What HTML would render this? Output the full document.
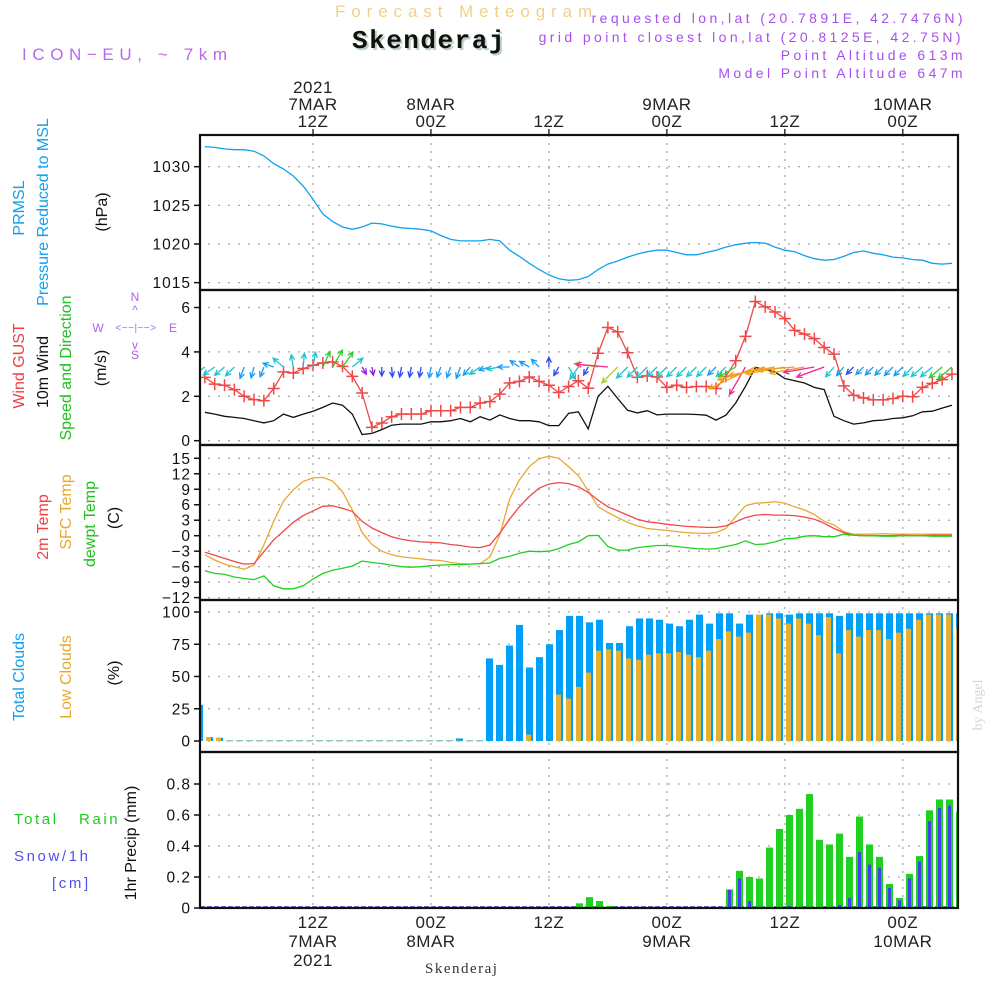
<!DOCTYPE html>
<html><head><meta charset="utf-8">
<style>
html,body{margin:0;padding:0;background:#fff;}
svg{display:block;font-family:"Liberation Sans",sans-serif;}
</style></head>
<body>
<svg id="chart" width="1000" height="1000" viewBox="0 0 1000 1000" xmlns="http://www.w3.org/2000/svg">
<text x="335" y="17" font-size="17" letter-spacing="5.9" fill="#f2cf8c">Forecast Meteogram</text>
<text x="354" y="50" font-family="Liberation Mono,monospace" font-weight="bold" font-size="26" letter-spacing="1.5" fill="#b9d2bc">Skenderaj</text>
<text x="352" y="48" font-family="Liberation Mono,monospace" font-weight="bold" font-size="26" letter-spacing="1.5" fill="#111">Skenderaj</text>
<text x="22" y="60" font-size="17" letter-spacing="5.6" fill="#b868f0">ICON−EU, ~ 7km</text>
<g font-size="14" letter-spacing="3.4" fill="#a850ee" text-anchor="end">
<text x="966" y="23">requested lon,lat (20.7891E, 42.7476N)</text>
<text x="964" y="42">grid point closest lon,lat (20.8125E, 42.75N)</text>
<text x="966" y="60">Point Altitude 613m</text>
<text x="966" y="78">Model Point Altitude 647m</text>
</g>
<g id="g"></g>
<g fill="#b060f0" font-size="12" text-anchor="middle">
<text x="135" y="301">N</text>
<text x="136" y="331" font-size="10" letter-spacing="0.5">&lt;−−|−−&gt;</text>
<text x="98" y="332">W</text>
<text x="173" y="332">E</text>
<text x="135" y="359">S</text>
<text x="135" y="314">^</text>
<text x="135" y="349">v</text>
</g>
<g font-size="16" text-anchor="middle">
<text transform="translate(24,208) rotate(-90)" fill="#10a0f0">PRMSL</text>
<text transform="translate(48,212) rotate(-90)" fill="#10a0f0">Pressure Reduced to MSL</text>
<text transform="translate(107,212) rotate(-90)" fill="#111">(hPa)</text>
<text transform="translate(24,366) rotate(-90)" fill="#f04040">Wind GUST</text>
<text transform="translate(48,372) rotate(-90)" fill="#111">10m Wind</text>
<text transform="translate(71,368) rotate(-90)" fill="#20c020">Speed and Direction</text>
<text transform="translate(106,368) rotate(-90)" fill="#111">(m/s)</text>
<text transform="translate(48,527) rotate(-90)" fill="#f04040">2m Temp</text>
<text transform="translate(71,512) rotate(-90)" fill="#e8a830">SFC Temp</text>
<text transform="translate(95,524) rotate(-90)" fill="#20c020">dewpt Temp</text>
<text transform="translate(119,518) rotate(-90)" fill="#111">(C)</text>
<text transform="translate(24,677) rotate(-90)" fill="#10a0f0">Total Clouds</text>
<text transform="translate(71,677) rotate(-90)" fill="#e8a830">Low Clouds</text>
<text transform="translate(119,673) rotate(-90)" fill="#111">(%)</text>
<text transform="translate(136,843) rotate(-90)" fill="#111">1hr Precip (mm)</text>
</g>
<g font-size="15" letter-spacing="2.6">
<text x="14" y="824" fill="#20c820">Total</text>
<text x="79" y="824" fill="#20c820">Rain</text>
<text x="14" y="861" fill="#5050f0">Snow/1h</text>
<text x="52" y="888" fill="#5050f0">[cm]</text>
</g>
<text transform="translate(982,705) rotate(-90)" text-anchor="middle" font-family="Liberation Serif,serif" font-size="14" fill="#d4d4d4">by Angel</text>
<text x="425" y="973" font-family="Liberation Serif,serif" font-size="15" letter-spacing="1.5" fill="#333">Skenderaj</text>
</svg>
<script>
const hours=[];for(let i=1;i<=77;i++)hours.push(i);
const pressure=[1032.6,1032.5,1032.3,1032.2,1032.2,1032.0,1031.4,1030.4,1029.7,1028.8,
1027.5,1025.8,1023.9,1022.9,1022.2,1021.9,1022.2,1022.7,1022.6,1022.3,
1022.1,1022.0,1021.9,1021.7,1021.1,1020.6,1020.4,1020.4,1020.4,1020.6,
1020.4,1019.2,1018.4,1017.5,1016.7,1016.0,1015.5,1015.3,1015.4,1015.8,
1016.7,1017.4,1017.8,1018.3,1018.7,1019.0,1019.2,1019.2,1018.9,1018.6,
1018.6,1018.9,1019.2,1019.6,1019.9,1020.1,1020.2,1020.1,1019.6,1019.2,
1019.0,1018.5,1018.1,1017.9,1018.0,1018.4,1018.9,1019.1,1018.8,1018.6,
1018.3,1018.2,1018.0,1017.9,1017.5,1017.4,1017.5];
const gust=[2.85,2.55,2.5,2.3,2.0,1.85,1.8,2.35,3.1,3.05,
3.25,3.4,3.5,3.55,3.35,2.9,2.15,0.6,0.8,1.08,
1.2,1.2,1.2,1.35,1.35,1.35,1.5,1.5,1.7,1.76,
2.1,2.6,2.67,2.87,2.67,2.5,2.17,2.44,2.7,2.36,
3.94,5.1,4.9,3.96,2.86,2.92,2.87,2.4,2.5,2.4,
2.44,2.44,2.35,2.9,3.6,4.7,6.27,6.03,5.8,5.5,
4.97,4.8,4.6,4.2,3.9,2.47,2.05,1.93,1.84,1.84,
1.9,2.0,1.98,2.4,2.58,2.75,3.0];
const windSpeed=[1.28,1.2,1.1,1.05,1.0,0.9,0.8,0.9,1.2,1.05,
1.2,1.33,1.5,1.7,1.6,1.2,0.28,0.33,0.5,0.7,
0.75,0.75,0.75,0.85,0.85,0.9,1.0,0.85,1.08,0.93,
1.16,1.0,0.9,0.9,0.85,0.68,0.68,1.23,1.3,0.53,
2.0,2.45,1.9,1.37,1.25,1.35,1.16,1.2,1.2,1.2,
1.18,1.15,0.93,1.15,1.7,2.45,3.3,3.2,3.1,2.8,
2.7,2.6,2.4,2.3,1.1,0.9,0.75,0.8,0.9,0.93,
1.0,1.03,1.12,1.3,1.33,1.47,1.6];
const windDir=[215,215,220,225,250,255,250,160,140,100,
85,80,65,60,55,40,300,280,270,275,
260,260,260,260,250,250,250,230,215,195,
190,180,145,150,135,90,240,300,235,240,
172,175,225,225,225,225,225,225,225,225,
225,225,225,225,210,240,205,195,190,190,
185,190,190,200,230,230,225,225,225,225,
225,225,225,220,220,220,220];
const temp2m=[-3.2,-3.8,-4.4,-5.0,-5.5,-5.4,-3.1,-0.8,0.9,2.6,
3.9,4.8,5.7,5.8,5.3,4.7,2.8,1.5,0.6,-0.2,
-0.7,-1.0,-1.2,-1.3,-1.4,-1.7,-1.9,-2.2,-2.3,-1.8,
0.5,3.2,5.6,7.6,9.2,10.0,10.3,10.1,9.5,8.4,
6.9,5.6,4.8,4.0,3.2,2.7,2.5,2.2,2.0,1.8,
1.7,1.6,1.6,1.9,2.7,3.5,4.0,4.1,4.0,4.0,
3.9,3.6,3.2,2.4,1.4,0.6,0.1,0.0,0.0,0.0,
0.0,0.1,0.0,0.0,0.1,0.1,0.1];
const tempSfc=[-3.7,-4.7,-5.5,-6.0,-6.5,-5.7,-1.8,2.8,6.7,8.9,
10.5,11.2,11.3,10.6,8.5,5.0,0.6,-1.7,-3.0,-3.7,
-4.1,-4.3,-4.5,-4.7,-4.8,-5.2,-5.4,-5.5,-5.4,-4.1,
0.1,7.1,10.8,13.4,14.9,15.4,15.0,13.4,11.6,8.7,
5.6,4.5,3.5,2.6,1.9,1.4,1.2,1.0,0.8,0.6,
0.5,0.45,0.6,1.4,3.7,5.8,6.3,6.4,6.6,6.3,
5.6,5.0,4.1,2.8,2.1,0.8,0.3,0.3,0.3,0.4,
0.3,0.3,0.3,0.3,0.3,0.3,0.3];
const dewpt=[-6.8,-7.3,-7.5,-8.0,-8.3,-8.5,-7.8,-9.7,-10.3,-10.3,
-9.7,-8.4,-7.3,-6.7,-6.3,-5.9,-4.9,-5.2,-5.4,-5.7,
-6.0,-6.1,-6.0,-5.8,-5.7,-5.6,-5.6,-5.5,-5.4,-5.3,
-4.4,-4.0,-3.4,-3.0,-3.1,-3.0,-2.5,-1.7,-1.2,0.0,
0.05,-2.1,-2.8,-2.8,-2.3,-2.1,-1.9,-1.9,-2.1,-2.3,
-2.5,-2.6,-2.5,-2.1,-1.7,-1.0,-1.7,-1.6,-1.2,-0.6,
-0.5,-0.1,0.0,-0.2,-0.2,0.3,0.1,0.0,0.0,-0.1,
-0.1,0,0,0,-0.1,-0.1,-0.1];
const totalClouds=[28,3,2.5,0.5,0.5,0.5,0.5,0.5,0.5,0.5,
0.5,0.5,0.5,0.5,0.5,0.5,0.5,0.5,0.5,0.5,
0.5,0.5,0.5,0.5,0.5,0.5,2,0.5,0.5,64,
59,74,90,57,65,75,86,97,97,92,
94,76,76,89,95,95,94,91,89,94,
98,91,99,99,91,98,98,99,99,98,
99,99,99,99,97,99,99,99,99,99,
99,99,99,99,99,99,99];
const lowClouds=[28,3,2.5,0.3,0.3,0.3,0.3,0.3,0.3,0.3,
0.3,0.3,0.3,0.3,0.3,0.3,0.3,0.3,0.3,0.3,
0.3,0.3,0.3,0.3,0.3,0.3,0.3,0.3,0.3,0,
0,0,0,5,0,0,36,33,42,53,
70,71,70,64,63,67,68,68,69,67,
65,70,79,85,81,84,98,98,95,91,
95,91,82,96,68,86,81,86,86,79,
84,87,94,98,98,98,88];
const rain=[0,0,0,0,0,0,0,0,0,0,
0,0,0,0,0,0,0,0,0,0,
0,0,0,0,0,0,0,0,0,0,
0,0,0,0,0,0,0,0,0.03,0.07,
0.045,0.013,0,0,0,0,0,0,0,0,
0,0,0,0.12,0.24,0.20,0.19,0.39,0.51,0.60,
0.64,0.735,0.44,0.41,0.48,0.33,0.59,0.41,0.33,0.155,
0.065,0.22,0.335,0.63,0.70,0.70,0.62];
const snow=[0,0,0,0,0,0,0,0,0,0,
0,0,0,0,0,0,0,0,0,0,
0,0,0,0,0,0,0,0,0,0,
0,0,0,0,0,0,0,0,0,0,
0,0,0,0,0,0,0,0,0,0,
0,0,0,0.116,0.19,0.045,0.002,0.002,0.006,0.013,
0.006,0.006,0.003,0.003,0.02,0.065,0.36,0.28,0.26,0.13,
0.05,0.19,0.30,0.56,0.645,0.66,0.59];
const pressTicks=[1015,1020,1025,1030];
const windTicks=[0,2,4,6];
const tempTicks=[-12,-9,-6,-3,0,3,6,9,12,15];
const cloudTicks=[0,25,50,75,100];
const precipTicks=[0,0.2,0.4,0.6,0.8];
const timeTickHours=[12,24,36,48,60,72];
const topLabels=[["2021","7MAR","12Z"],["8MAR","00Z"],["12Z"],["9MAR","00Z"],["12Z"],["10MAR","00Z"]];
const bottomLabels=[["12Z","7MAR","2021"],["00Z","8MAR"],["12Z"],["00Z","9MAR"],["12Z"],["00Z","10MAR"]];

const NS="http://www.w3.org/2000/svg";
const G=document.getElementById('g');
const L=200,R=958;
function mk(tag,attrs,parent){const e=document.createElementNS(NS,tag);for(const k in attrs)e.setAttribute(k,attrs[k]);(parent||G).appendChild(e);return e;}
const xL=h=>313+(h-12)*9.83;
const xB=h=>199.5+(h-1)*10;
const yP=v=>166.7+(1030-v)*7.73;
const yW=v=>440.7-v*22.2;
const yT=v=>535.7-v*5.16;
const yC=v=>741-v*1.29;
const yR=v=>908-v*155;
const panels=[[135,290],[290,445],[445,600],[600,752],[752,908]];

const defs=mk('defs',{});
panels.forEach((p,i)=>{const c=mk('clipPath',{id:'c'+i},defs);mk('rect',{x:L,y:p[0],width:R-L,height:p[1]-p[0]},c);});

function hGrid(ticks,fy,fmt,name){
  ticks.forEach(t=>{
    const y=fy(t);
    const gl=mk('line',{x1:L+8,x2:R,y1:y,y2:y,stroke:'#aaa','stroke-width':1.3,'stroke-dasharray':'2,8'});
    
    
    const tk=mk('line',{x1:L-6,x2:L,y1:y,y2:y,stroke:'#111','stroke-width':1.5});
    
    
    const tx=mk('text',{x:L-9,y:y+5.5,'text-anchor':'end','font-size':15.5,'letter-spacing':1,fill:'#111'});
    tx.textContent=fmt(t);
    
    
  });
}
hGrid(pressTicks,yP,t=>String(t),'pressure');
hGrid(windTicks,yW,t=>String(t),'wind');
hGrid(tempTicks,yT,t=>t<0?'−'+(-t):String(t),'temp');
hGrid(cloudTicks,yC,t=>String(t),'cloud');
hGrid(precipTicks,yR,t=>t===0?'0':t.toFixed(1),'precip');
timeTickHours.forEach((h,i)=>{
  const x=xL(h);
  const v=mk('line',{x1:x,x2:x,y1:135,y2:908,stroke:'#aaa','stroke-width':1.3,'stroke-dasharray':'2,6'});
  
  
  const t1=mk('line',{x1:x,x2:x,y1:129,y2:135,stroke:'#111','stroke-width':1.3});
  
  
  const lab=topLabels[i];
  lab.forEach((s,j)=>{
    const yy=127-(lab.length-1-j)*17;
    const t=mk('text',{x:x,y:yy,'text-anchor':'middle','font-size':17,'letter-spacing':0.5,fill:'#222'});t.textContent=s;
    
    
  });
  bottomLabels[i].forEach((s,j)=>{
    const t=mk('text',{x:x,y:928+j*19,'text-anchor':'middle','font-size':17,'letter-spacing':0.5,fill:'#222'});t.textContent=s;
    
    
  });
});

function line(arr,fx,fy,color,clip,name,w){
  const d=arr.map((v,i)=>(i?'L':'M')+fx(hours[i]).toFixed(1)+','+fy(v).toFixed(1)).join('');
  const p=mk('path',{d:d,fill:'none',stroke:color,'stroke-width':w||1.3,'clip-path':'url(#c'+clip+')'});
  
  
  return p;
}
line(pressure,xL,yP,'#10a0f0',0,'pressure-line');
line(windSpeed,xL,yW,'#111',1,'wind-speed-line');
line(gust,xL,yW,'#f04848',1,'wind-gust-line');
gust.forEach((v,i)=>{
  const x=xL(hours[i]),y=yW(v);
  const m=mk('path',{d:`M${x-6},${y}H${x+6}M${x},${y-6}V${y+6}`,stroke:'#f04848','stroke-width':1.5,'clip-path':'url(#c1)'});
  
  
});
function arrowColor(s){
  if(s<0.5)return '#9020e0';if(s<0.8)return '#3048f0';if(s<1.05)return '#1c9cf0';
  if(s<1.4)return '#20c4d0';if(s<1.8)return '#30cc30';if(s<2.2)return '#a8d020';
  if(s<2.6)return '#f02890';return '#f0a020';
}
windSpeed.forEach((s,i)=>{
  const x=xL(hours[i]),y=367;
  const len=4*s*s+8;
  const a=windDir[i]*Math.PI/180;
  const x2=x+len*Math.cos(a),y2=y-len*Math.sin(a);
  const hl=6,ha=0.45;
  const b1=a+Math.PI-ha,b2=a+Math.PI+ha;
  const c=arrowColor(s);
  const d=`M${x.toFixed(1)},${y}L${x2.toFixed(1)},${y2.toFixed(1)}M${(x2+hl*Math.cos(b1)).toFixed(1)},${(y2-hl*Math.sin(b1)).toFixed(1)}L${x2.toFixed(1)},${y2.toFixed(1)}L${(x2+hl*Math.cos(b2)).toFixed(1)},${(y2-hl*Math.sin(b2)).toFixed(1)}`;
  const p=mk('path',{d:d,stroke:c,'stroke-width':1.3,fill:'none','clip-path':'url(#c1)'});
  
  
});
line(tempSfc,xL,yT,'#e8a830',2,'sfc-temp-line');
line(temp2m,xL,yT,'#f04848',2,'temp-2m-line');
line(dewpt,xL,yT,'#20d020',2,'dewpt-line');
totalClouds.forEach((v,i)=>{
  const x=xB(hours[i]);
  const r=mk('rect',{x:x-3.5,y:yC(v),width:7,height:Math.max(741-yC(v),0.8),fill:'#00a0f8','clip-path':'url(#c3)'});
  
  
});
lowClouds.forEach((v,i)=>{
  if(v<=0)return;
  const x=xB(hours[i]);
  const r=mk('rect',{x:x-3.5,y:yC(v),width:5,height:Math.max(741-yC(v),0.8),fill:'#e8b030','clip-path':'url(#c3)'});
  
  
});
const base=mk('line',{x1:L,x2:R,y1:907,y2:907,stroke:'#3030c0','stroke-width':1.5,'stroke-dasharray':'5,2'});


rain.forEach((v,i)=>{
  if(v<=0)return;
  const x=xB(hours[i]);
  const r=mk('rect',{x:x-3.5,y:yR(v),width:7,height:908-yR(v),fill:'#20d020','clip-path':'url(#c4)'});
  
  
});
snow.forEach((v,i)=>{
  if(v<=0)return;
  const x=xB(hours[i]);
  const r=mk('rect',{x:x-1.5,y:yR(v),width:3,height:Math.max(908-yR(v),1),fill:'#4040f0','clip-path':'url(#c4)'});
  
  
});
panels.forEach((p,i)=>{
  const r=mk('rect',{x:L,y:p[0],width:R-L,height:p[1]-p[0],fill:'none',stroke:'#111','stroke-width':2.2});
  
  
});
</script>
</body></html>
